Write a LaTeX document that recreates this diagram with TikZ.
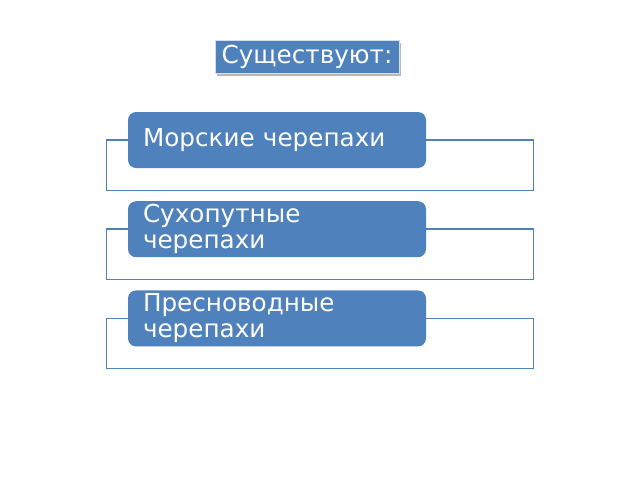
\documentclass[tikz,border=0pt]{standalone}
\usepackage{fontspec}
\setmainfont{DejaVu Sans}
\usetikzlibrary{positioning}
\usetikzlibrary{backgrounds}
\usetikzlibrary{shadows}

\definecolor{turtleblue}{HTML}{4F81BD}

\begin{document}
\begin{tikzpicture}[x=0.75pt,y=-0.75pt,node distance=24.5pt,
  kind/.style={fill=turtleblue,rounded corners=6pt,text=white,align=left,
    text width=201pt,minimum width=223.5pt,minimum height=42pt,inner xsep=11.25pt,
    inner ysep=0pt,font=\fontsize{18.5}{19.5}\selectfont},
  frame/.style={draw=turtleblue,line width=1.1pt},
  heading/.style={fill=turtleblue,draw=white!75!turtleblue,text=white,
    minimum width=138pt,minimum height=24.75pt,inner sep=0pt,
    font=\fontsize{18.5}{19.5}\selectfont,
    drop shadow={shadow xshift=1.5pt,shadow yshift=-1.5pt,fill=gray!55,opacity=1}}]

    \useasboundingbox (0,0) rectangle (640,480);

    % Place nodes
    \node [heading] (exist) at (307,57) {Существуют:};
    \node [kind] (sea) at (277,140) {Морские черепахи};
    \node [kind,below=of sea] (land) {Сухопутные\\черепахи};
    \node [kind,below=of land] (fresh) {Пресноводные\\черепахи};

    % frames behind the boxes
    \begin{scope}[on background layer]
      \draw [frame] ([xshift=-15.75pt]sea.west) rectangle ([xshift=80.25pt,yshift=-16.5pt]sea.south east);
      \draw [frame] ([xshift=-15.75pt]land.west) rectangle ([xshift=80.25pt,yshift=-16.5pt]land.south east);
      \draw [frame] ([xshift=-15.75pt]fresh.west) rectangle ([xshift=80.25pt,yshift=-16.5pt]fresh.south east);
    \end{scope}
\end{tikzpicture}
\end{document}
